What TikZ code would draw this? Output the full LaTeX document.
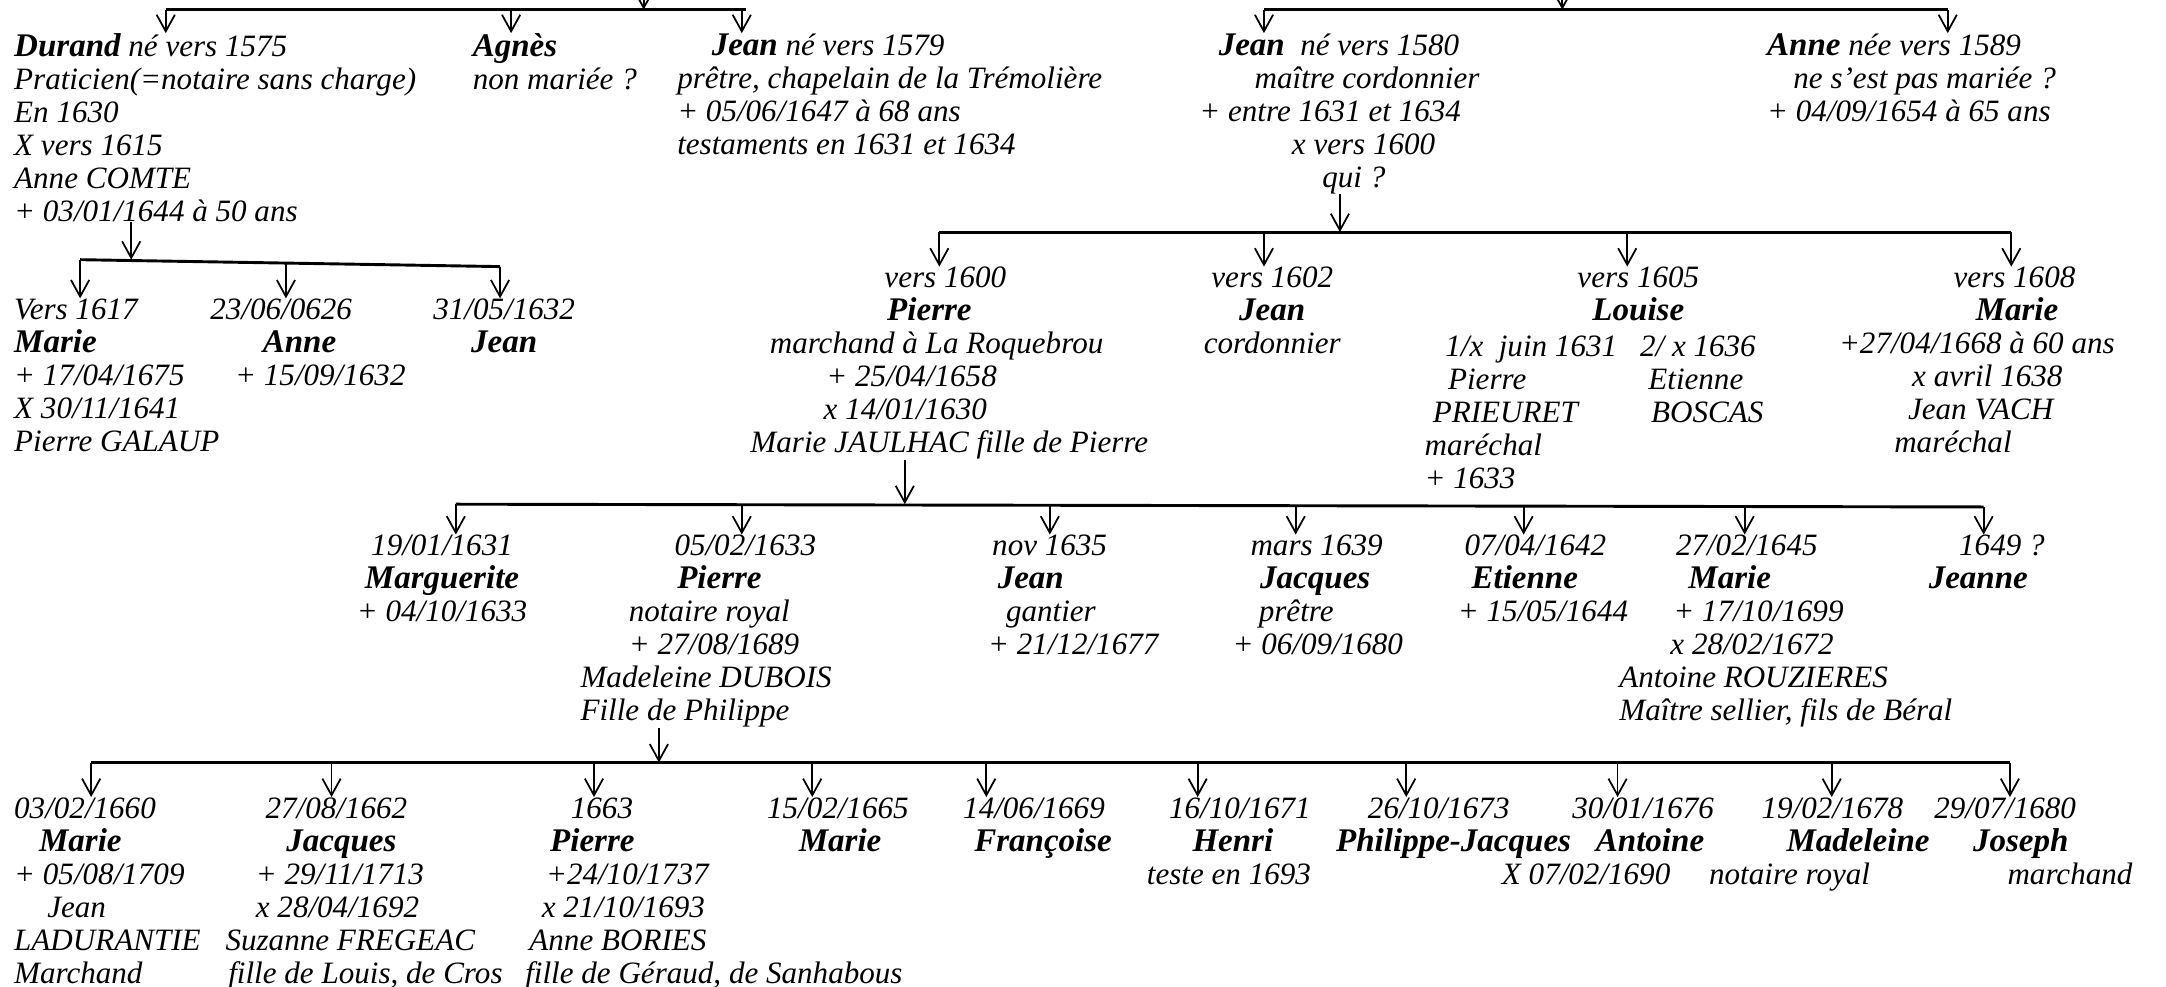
\documentclass[tikz,border=0pt]{standalone}
\usepackage{fontspec}
\setmainfont{Liberation Serif}
\usepackage{tikz}
\usetikzlibrary{arrows.meta}

\newlength{\unitlen}
\setlength{\unitlen}{0.025cm}
\newcommand{\indt}[1]{\hspace*{#1\unitlen}}
\newcommand{\nom}[1]{{\fontsize{17}{17}\selectfont\bfseries #1}}

\begin{document}
\begin{tikzpicture}[x=0.025cm, y=-0.025cm,
      >={Straight Barb[length=3mm,width=3.3mm]},
      pers/.style={font=\fontsize{16}{17}\selectfont\itshape, inner sep=0pt,
                   align=left, anchor=north west},
      persc/.style={pers, align=center, anchor=north},
      bar/.style={line width=1.5pt},
      down/.style={->, line width=0.9pt}]
    \useasboundingbox (0,0) rectangle (1568,714);

    % first generation
    \node[pers] (durand) at (10,24) {\nom{Durand} né vers 1575\\Praticien(=notaire sans charge)\\
      En 1630\\X vers 1615\\Anne COMTE\\+ 03/01/1644 à 50 ans};
    \node[pers] (agnes) at (342,24) {\nom{Agnès}\\non mariée ?};
    \node[pers] (jean79) at (490,24) {\indt{25}\nom{Jean} né vers 1579\\
      prêtre, chapelain de la Trémolière\\+ 05/06/1647 à 68 ans\\testaments en 1631 et 1634};
    \node[pers] (jean80) at (868,24) {\indt{14}\nom{Jean}\ \ né vers 1580\\\indt{40}maître cordonnier\\
      + entre 1631 et 1634\\\indt{67}x vers 1600\\\indt{89}qui ?};
    \node[pers] (anne89) at (1279,24) {\nom{Anne} née vers 1589\\\indt{19}ne s’est pas mariée ?\\
      + 04/09/1654 à 65 ans};

    \coordinate (topin1) at (466,-20);
    \coordinate (top1) at (466,7);
    \coordinate (top1a) at (120,7);
    \coordinate (top1b) at (370,7);
    \coordinate (top1c) at (540,7);
    \coordinate (topin2) at (1131,-20);
    \coordinate (top2) at (1131,7);
    \coordinate (top2a) at (915,7);
    \coordinate (top2b) at (1410,7);
    \draw[down] (topin1) -- (top1);
    \draw[down] (topin2) -- (top2);
    \draw[bar] (top1a) -- (top1c);
    \draw[bar] (top2a) -- (top2b);
    \draw[down] (top1a) -- (top1a |- durand.north);
    \draw[down] (top1b) -- (top1b |- agnes.north);
    \draw[down] (537,7) -- (537,7 |- jean79.north);
    \draw[down] (top2a) -- (top2a |- jean80.north);
    \draw[down] (top2b) -- (top2b |- anne89.north);

    % children of Durand
    \node[pers] (marie17) at (10,216) {Vers 1617\\\nom{Marie}\\+ 17/04/1675\\X 30/11/1641\\Pierre GALAUP};
    \node[pers] (anne26) at (152,216) {23/06/0626\\\indt{38}\nom{Anne}\\\indt{18}+ 15/09/1632};
    \node[persc] (jean32) at (365,216) {31/05/1632\\\nom{Jean}};

    \coordinate (dur) at (95,188);
    \coordinate (dura) at (58,188);
    \coordinate (durb) at (207,190.5);
    \coordinate (durc) at (362,193);
    \draw[down] (dur |- durand.south) -- (dur);
    \draw[bar] (dura) -- (durc);
    \draw[down] (dura) -- (dura |- marie17.north);
    \draw[down] (durb) -- (durb |- anne26.north);
    \draw[down] (durc) -- (durc |- jean32.north);

    % children of Jean
    \node[pers] (pierre00) at (543,193) {\indt{97}vers 1600\\\indt{99}\nom{Pierre}\\
      \indt{14}marchand à La Roquebrou\\\indt{55}+ 25/04/1658\\\indt{53}x 14/01/1630\\
      Marie JAULHAC fille de Pierre};
    \node[persc] (jean02) at (921,193) {vers 1602\\\nom{Jean}\\cordonnier};
    \node[persc] (louise) at (1186,193) {vers 1605\\\nom{Louise}};
    \node[pers] (louisex1) at (1031,243) {\indt{15}1/x\ \ juin 1631\\\indt{17}Pierre\\\indt{6}PRIEURET\\
      maréchal\\+ 1633};
    \node[pers] (louisex2) at (1187,243) {2/ x 1636\\\indt{6}Etienne\\\indt{8}BOSCAS};
    \node[pers] (marie08) at (1331,193) {\indt{83}vers 1608\\\indt{99}\nom{Marie}\\
      +27/04/1668 à 60 ans\\\indt{53}x avril 1638\\\indt{50}Jean VACH\\\indt{40}maréchal};

    \coordinate (jn) at (970,168);
    \coordinate (jna) at (680,168);
    \coordinate (jnb) at (915,168);
    \coordinate (jnc) at (1178,168);
    \coordinate (jnd) at (1456,168);
    \draw[down] (jn |- jean80.south) -- (jn);
    \draw[bar] (jna) -- (jnd);
    \draw[down] (jna) -- (jna |- pierre00.north);
    \draw[down] (jnb) -- (jnb |- jean02.north);
    \draw[down] (jnc) -- (jnc |- louise.north);
    \draw[down] (jnd) -- (jnd |- marie08.north);

    % children of Pierre x Marie JAULHAC
    \node[persc] (marguerite) at (320,387) {19/01/1631\\\nom{Marguerite}\\+ 04/10/1633};
    \node[pers] (pierre33) at (420,387) {\indt{68}05/02/1633\\\indt{70}\nom{Pierre}\\
      \indt{35}notaire royal\\\indt{35}+ 27/08/1689\\Madeleine DUBOIS\\Fille de Philippe};
    \node[pers] (jean35) at (715,387) {\indt{3}nov 1635\\\indt{7}\nom{Jean}\\\indt{13}gantier\\+ 21/12/1677};
    \node[pers] (jacques39) at (892,387) {\indt{13}mars 1639\\\indt{20}\nom{Jacques}\\\indt{19}prêtre\\
      + 06/09/1680};
    \node[pers] (etienne42) at (1055,387) {\indt{5}07/04/1642\\\indt{10}\nom{Etienne}\\+ 15/05/1644};
    \node[pers] (marie45) at (1172,387) {\indt{41}27/02/1645\\\indt{50}\nom{Marie}\\
      \indt{39}+ 17/10/1699\\\indt{37}x 28/02/1672\\Antoine ROUZIERES\\Maître sellier, fils de Béral};
    \node[pers] (jeanne49) at (1396,387) {\indt{22}1649 ?\\\nom{Jeanne}};

    \coordinate (pj) at (655,365);
    \coordinate (pja) at (330,365);
    \coordinate (pjb) at (537,365.4);
    \coordinate (pjc) at (760,365.8);
    \coordinate (pjd) at (938,366.1);
    \coordinate (pje) at (1103,366.4);
    \coordinate (pjf) at (1263,366.7);
    \coordinate (pjg) at (1436,367);
    \draw[down] (pj |- pierre00.south) -- (pj);
    \draw[bar] (pja) -- (pjg);
    \draw[down] (pja) -- (pja |- marguerite.north);
    \draw[down] (pjb) -- (pjb |- pierre33.north);
    \draw[down] (pjc) -- (pjc |- jean35.north);
    \draw[down] (pjd) -- (pjd |- jacques39.north);
    \draw[down] (pje) -- (pje |- etienne42.north);
    \draw[down] (pjf) -- (pjf |- marie45.north);
    \draw[down] (pjg) -- (pjg |- jeanne49.north);

    % children of Pierre x Madeleine DUBOIS
    \node[pers] (marie60) at (10,577) {03/02/1660\\\indt{18}\nom{Marie}\\+ 05/08/1709\\\indt{24}Jean\\
      LADURANTIE\\Marchand};
    \node[pers] (jacques62) at (163,577) {\indt{29}27/08/1662\\\indt{44}\nom{Jacques}\\
      \indt{22}+ 29/11/1713\\\indt{22}x 28/04/1692\\Suzanne FREGEAC\\\indt{2}fille de Louis, de Cros};
    \node[pers] (pierre63) at (380,577) {\indt{33}1663\\\indt{18}\nom{Pierre}\\\indt{15}+24/10/1737\\
      \indt{12}x 21/10/1693\\\indt{3}Anne BORIES\\fille de Géraud, de Sanhabous};
    \node[pers] (marie65) at (555,577) {15/02/1665\\\indt{23}\nom{Marie}};
    \node[pers] (francoise) at (697,577) {14/06/1669\\\indt{8}\nom{Françoise}};
    \node[pers] (henri) at (830,577) {\indt{16}16/10/1671\\\indt{33}\nom{Henri}\\teste en 1693};
    \node[pers] (philjac) at (967,577) {\indt{23}26/10/1673\\\nom{Philippe-Jacques}};
    \node[pers] (antoine) at (1087,577) {\indt{51}30/01/1676\\\indt{68}\nom{Antoine}\\X 07/02/1690};
    \node[pers] (madeleine) at (1237,577) {\indt{38}19/02/1678\\\indt{56}\nom{Madeleine}\\notaire royal};
    \node[pers] (joseph) at (1400,577) {29/07/1680\\\indt{28}\nom{Joseph}\\\indt{53}marchand};

    \coordinate (pd) at (477,552);
    \coordinate (pda) at (66,552);
    \coordinate (pdb) at (240,552);
    \coordinate (pdc) at (430,552);
    \coordinate (pdd) at (588,552);
    \coordinate (pde) at (714,552);
    \coordinate (pdf) at (867,552);
    \coordinate (pdg) at (1018,552);
    \coordinate (pdh) at (1171,552);
    \coordinate (pdi) at (1326,552);
    \coordinate (pdj) at (1455,552);
    \draw[down] (pd |- pierre33.south) -- (pd);
    \draw[bar] (pda) -- (pdj);
    \draw[down] (pda) -- (pda |- marie60.north);
    \draw[down] (pdb) -- (pdb |- jacques62.north);
    \draw[down] (pdc) -- (pdc |- pierre63.north);
    \draw[down] (pdd) -- (pdd |- marie65.north);
    \draw[down] (pde) -- (pde |- francoise.north);
    \draw[down] (pdf) -- (pdf |- henri.north);
    \draw[down] (pdg) -- (pdg |- philjac.north);
    \draw[down] (pdh) -- (pdh |- antoine.north);
    \draw[down] (pdi) -- (pdi |- madeleine.north);
    \draw[down] (pdj) -- (pdj |- joseph.north);
  \end{tikzpicture}
\end{document}
